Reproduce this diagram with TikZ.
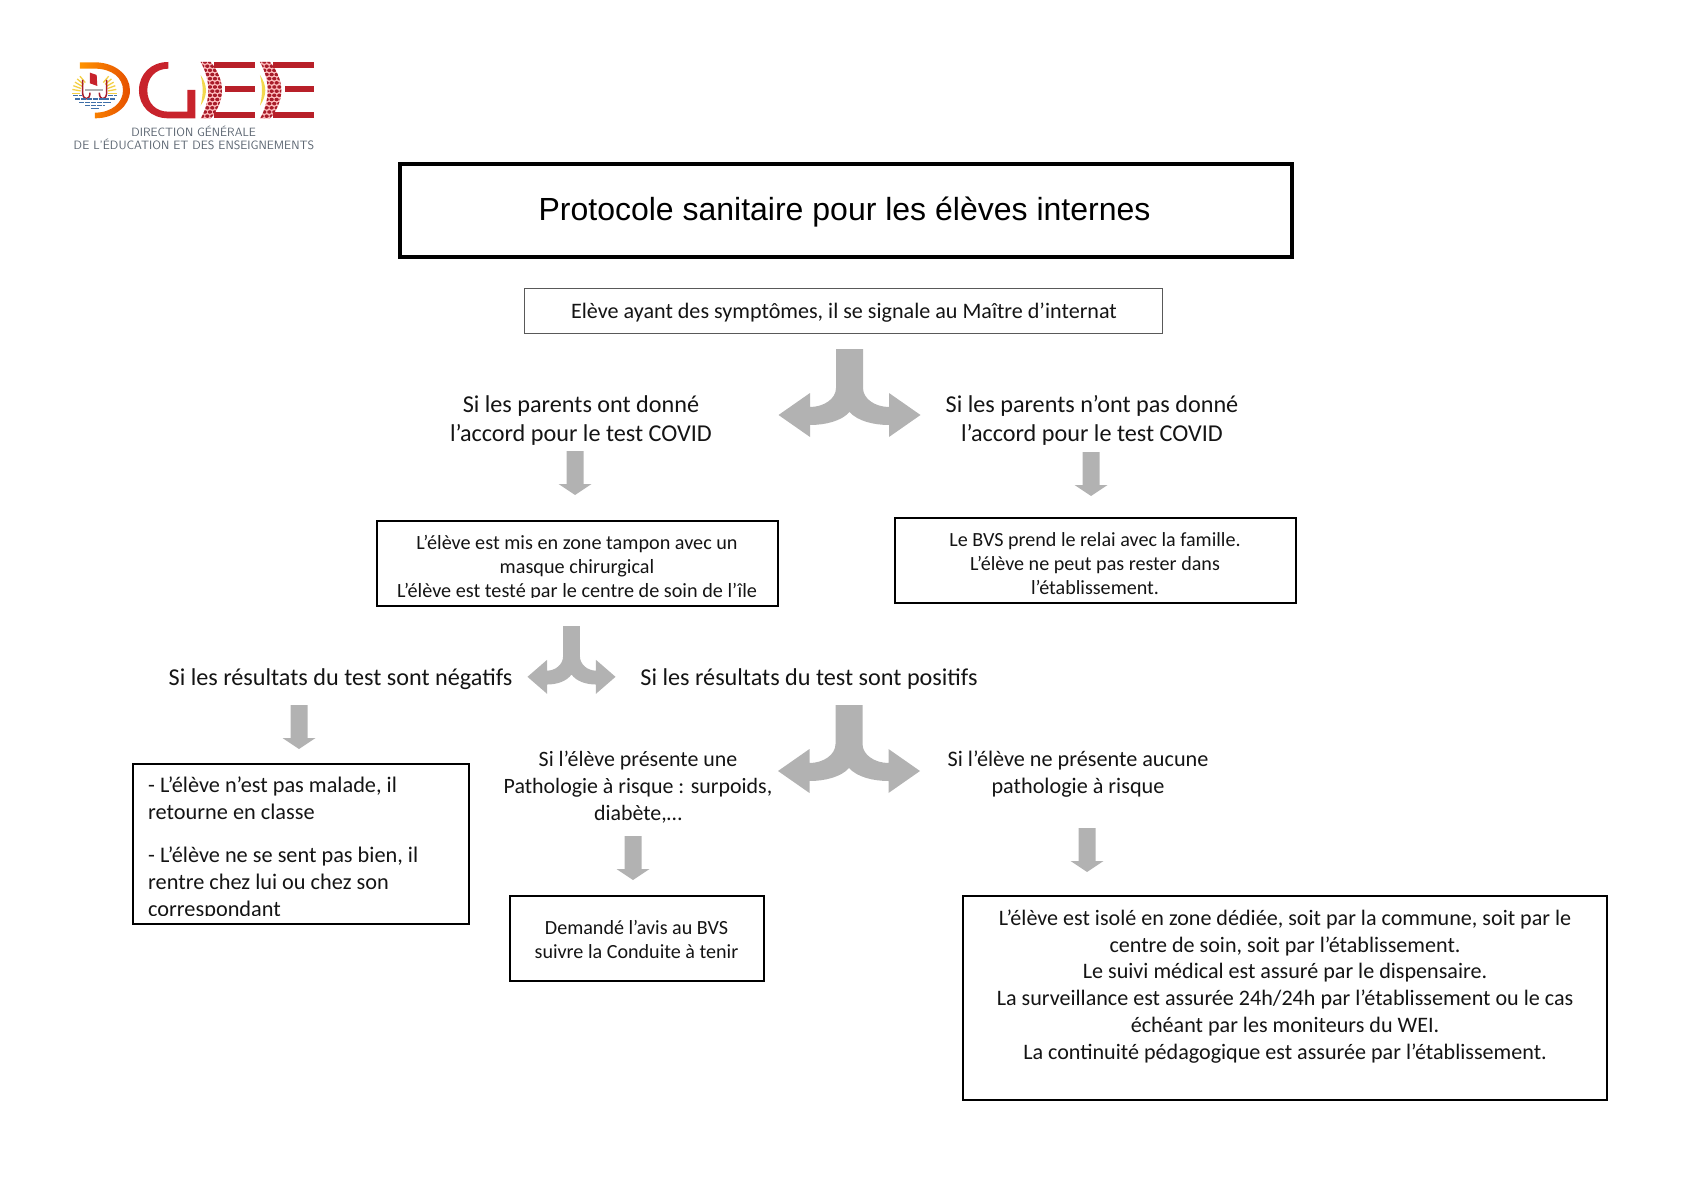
\documentclass[tikz,border=0pt]{standalone}
\usepackage{fontspec}
\setmainfont{Carlito}
\newfontfamily\titlefont{Liberation Sans}
\definecolor{arrowgrey}{HTML}{B2B2B2}
\definecolor{logored}{HTML}{C8232C}
\definecolor{logodark}{HTML}{A81C2A}
\definecolor{logotext}{HTML}{5A6470}
\definecolor{logoblue}{HTML}{3F6FA8}
\definecolor{logoyellow}{HTML}{F2D94E}
\tikzset{
  flowbox/.style={draw=black,line width=2pt,fill=none,inner sep=0pt,outer sep=0pt},
  thinbox/.style={draw=black!65,line width=1pt,fill=none,inner sep=0pt,outer sep=0pt},
  titlebox/.style={draw=black,line width=4.2pt,fill=none,inner sep=0pt,outer sep=0pt},
  lab/.style 2 args={font=\fontsize{#1}{#2}\selectfont,align=center,inner sep=0pt,text=black!92},
  lableft/.style 2 args={font=\fontsize{#1}{#2}\selectfont,align=left,inner sep=0pt,anchor=west,text=black!92},
  forkarrow/.pic={
    \fill[arrowgrey] (-13.5,0) -- (13.5,0) -- (13.5,39)
      .. controls (13.5,50) and (26,58) .. (39.5,58)
      -- (39.5,44) -- (71,66) -- (39.5,88) -- (39.5,76)
      .. controls (24,76) and (8,72) .. (0,63)
      .. controls (-8,72) and (-24,76) .. (-39.5,76)
      -- (-39.5,88) -- (-71,66) -- (-39.5,44) -- (-39.5,58)
      .. controls (-26,58) and (-13.5,50) .. (-13.5,39) -- cycle;
  },
  downarrow/.pic={
    \fill[arrowgrey] (-8.5,0) -- (8.5,0) -- (8.5,33) -- (16.5,33) -- (0,44) -- (-16.5,33) -- (-8.5,33) -- cycle;
  }
}
\begin{document}
\begin{tikzpicture}[x=1pt,y=-1pt]
\useasboundingbox (0,0) rectangle (1683,1190);
% ---------- logo (coordinates in 3x crop units) ----------
\begin{scope}[shift={(40,30)},x=0.3333pt,y=-0.3333pt]
  % D
  \shade[left color=orange!85!yellow,right color=orange!70!red!90!black]
    (120,97) -- (165,97) .. controls (225,97) and (270,135) .. (270,181)
    .. controls (270,228) and (225,265) .. (165,265) -- (165,248)
    .. controls (215,248) and (249,218) .. (249,181)
    .. controls (249,143) and (215,116) .. (165,116) -- (120,116) -- cycle;
  % emblem: sun rays
  \foreach \aa in {0,10,...,50,130,140,...,180}{
    \draw[logoyellow!90!orange,line width=1.3pt] ({163+42*cos(\aa)},{190-42*sin(\aa)}) -- ({163+67*cos(\aa)},{190-67*sin(\aa)});
  }
  \fill[logored] (150,128) -- (170,135) -- (172,168) -- (150,160) -- cycle;
  \draw[logodark,line width=1.5pt] (128,150) -- (128,190) .. controls (130,212) and (150,212) .. (150,188);
  \draw[logodark,line width=1.5pt] (200,150) -- (200,190) .. controls (198,212) and (178,212) .. (178,188);
  \fill[black!30] (135,176) rectangle (190,183);
  \foreach \yy/\aa/\bb in {197/100/125,197/205/230,207/106/224,217/118/212,227/136/194,236/152/178}{
    \draw[logoblue,line width=1.3pt,dash pattern=on 5pt off 0.8pt] (\aa,\yy) -- (\bb,\yy);
  }
  % G
  \fill[logored] (385,96) -- (385,116) .. controls (345,116) and (322,145) .. (322,181)
    .. controls (322,220) and (348,245) .. (385,245) -- (442,245) -- (442,180) -- (466,180) -- (466,265) -- (385,265)
    .. controls (332,265) and (297,228) .. (297,181)
    .. controls (297,133) and (332,96) .. (385,96) -- cycle;
  % E E
  \foreach \dx in {0,178}{
    \begin{scope}[xshift=\dx*0.3333pt]
      \fill[logoyellow] (482,135) .. controls (492,150) and (498,165) .. (498,181) .. controls (498,197) and (492,212) .. (482,227) .. controls (486,210) and (488,195) .. (488,181) .. controls (488,167) and (486,152) .. (482,135) -- cycle;
      \begin{scope}
        \clip (482,96) -- (512,96) .. controls (532,120) and (546,150) .. (546,181) .. controls (546,212) and (532,242) .. (512,266) -- (482,266)
          .. controls (497,240) and (505,210) .. (505,181) .. controls (505,152) and (497,122) .. (482,96) -- cycle;
        \fill[red!25!white] (475,90) rectangle (550,270);
        \foreach \yy in {0,1,...,14}{
          \foreach \xx in {0,1,...,4}{
            \pgfmathsetmacro{\cx}{480+15*\xx+7*mod(\yy,2)}
            \fill[logodark] (\cx,{96+12.5*\yy}) ellipse[x radius=6.5,y radius=5.3];
          }
        }
      \end{scope}
      \fill[logored!92!black] (522,97) rectangle (645,115);
      \fill[logored!92!black] (556,168) rectangle (645,187);
      \fill[logored!92!black] (522,247) rectangle (645,265);
    \end{scope}
  }
  \node[font=\fontsize{12}{14}\selectfont\sffamily,text=logotext,inner sep=0pt] (logoa) at (461,305) {DIRECTION GÉNÉRALE};
  \node[font=\fontsize{12.1}{14}\selectfont\sffamily,text=logotext,inner sep=0pt] (logob) at (462,343) {DE L’ÉDUCATION ET DES ENSEIGNEMENTS};
\end{scope}
% ---------- title ----------
\node[titlebox,minimum width=892pt,minimum height=93pt] (title) at (846,210.5) {};
\node[font=\fontsize{32}{36}\selectfont\titlefont,inner sep=0pt] (titletext) at (844.5,212.5) {Protocole sanitaire pour les élèves internes};
% ---------- start ----------
\node[thinbox,minimum width=638pt,minimum height=45pt] (start) at (843,311) {};
\node[lab={22.1}{24}] (starttext) at (844,313) {Elève ayant des symptômes, il se signale au Maître d’internat};
% ---------- first fork ----------
\pic at (849.5,349) {forkarrow};
\node[lab={24.2}{29}] (yes) at (581,420.5) {Si les parents ont donné\\l’accord pour le test COVID};
\node[lab={24.2}{29}] (no) at (1092,420) {Si les parents n’ont pas donné\\l’accord pour le test COVID};
\pic at (575,451) {downarrow};
\pic at (1091,452) {downarrow};
% ---------- box 3 (last line cut by the frame) ----------
\node[flowbox,minimum width=401pt,minimum height=85pt] (zone) at (577,563) {};
\begin{scope}
  \clip (377,519) rectangle (778,597);
  \node[lab={20.2}{23.7}] (zonetext) at (577,568) {L’élève est mis en zone tampon avec un\\masque chirurgical\\L’élève est testé par le centre de soin de l’île};
\end{scope}
% ---------- box 4 ----------
\node[flowbox,minimum width=401pt,minimum height=85.5pt] (bvs) at (1095,560.5) {};
\node[lab={20.1}{24}] (bvstext) at (1095,564) {Le BVS prend le relai avec la famille.\\L’élève ne peut pas rester dans\\l’établissement.};
% ---------- second fork ----------
\pic[xscale=0.62,yscale=0.77] at (571.5,626) {forkarrow};
\node[lab={24.2}{26}] (neg) at (340.5,679) {Si les résultats du test sont négatifs};
\node[lab={24.2}{26}] (pos) at (809,679) {Si les résultats du test sont positifs};
\pic at (299,705) {downarrow};
% ---------- box 5 (last line cut by the frame) ----------
\node[flowbox,minimum width=336pt,minimum height=160pt] (neg box) at (301.25,844) {};
\begin{scope}
  \clip (133,762) rectangle (470,915);
  \node[lableft={22.3}{27}] (negtexta) at (148,798.5) {- L’élève n’est pas malade, il\\retourne en classe};
  \node[lableft={22.3}{27}] (negtextb) at (148,883.5) {- L’élève ne se sent pas bien, il\\rentre chez lui ou chez son\\correspondant};
\end{scope}
% ---------- third fork ----------
\pic at (849,705) {forkarrow};
\node[lab={21.9}{27.2}] (risk) at (638,787) {Si l’élève présente une\\Pathologie à risque : surpoids,\\diabète,…};
\node[lab={22.2}{27.2}] (norisk) at (1078,774) {Si l’élève ne présente aucune\\pathologie à risque};
\pic at (633,836) {downarrow};
\pic at (1087,828) {downarrow};
% ---------- box 6 ----------
\node[flowbox,minimum width=254pt,minimum height=85pt] (avis) at (637,938.5) {};
\node[lab={20.1}{24}] (avistext) at (636.5,939.5) {Demandé l’avis au BVS\\suivre la Conduite à tenir};
% ---------- box 7 ----------
\node[flowbox,minimum width=644pt,minimum height=204pt] (isol) at (1285,998) {};
\node[lab={22.1}{26.9}] (isoltext) at (1285,986.5) {L’élève est isolé en zone dédiée, soit par la commune, soit par le\\centre de soin, soit par l’établissement.\\Le suivi médical est assuré par le dispensaire.\\La surveillance est assurée 24h/24h par l’établissement ou le cas\\échéant par les moniteurs du WEI.\\La continuité pédagogique est assurée par l’établissement.};
\end{tikzpicture}
\end{document}
